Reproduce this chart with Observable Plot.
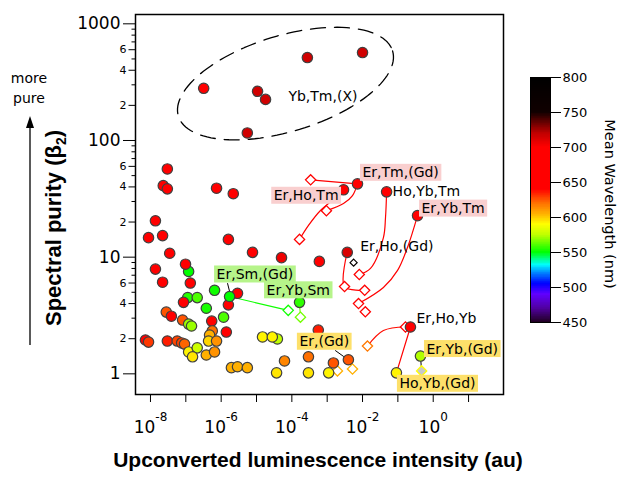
<!DOCTYPE html>
<html>
<head>
<meta charset="utf-8">
<script src="https://cdn.jsdelivr.net/npm/d3@7"></script>
<script src="https://cdn.jsdelivr.net/npm/@observablehq/plot@0.6"></script>
<style>
html,body{margin:0;padding:0;background:#fff;}
#chart{position:relative;width:618px;height:477px;overflow:hidden;background:#fff;}
#chart svg{position:absolute;left:0;top:0;}
</style>
</head>
<body>
<div id="chart"></div>
<script>
// ---------- colour scale (mean wavelength, nm) ----------
const wlStops  = [450, 470, 490, 505, 520, 532, 550, 575, 590, 605, 620, 640, 700, 720, 750, 800];
const wlColors = ["#200020","#5000a0","#6000ff","#0000ff","#0080ff","#00ffff","#00ff00","#c0ff00","#ffff00","#ffb000","#ff7000","#ff0000","#ff0000","#c00000","#100000","#000000"];
const cbTicks = [450, 500, 550, 600, 650, 700, 750, 800];

// ---------- Yb,Tm,(X) group ----------
const ybtmX  = [3.2e-7, 2.75e-4, 1.0e-2, 1.07e-5, 1.8e-5, 5.5e-6];
const ybtmY  = [280, 514, 567, 264, 225, 116];
const ybtmWl = [665, 715, 715, 715, 715, 715];

// ---------- unlabeled compositions ----------
const upperX  = [1.2e-7, 3.0e-8, 2.3e-8, 3.0e-8, 7.4e-7, 2.2e-6, 1.38e-8, 8.8e-9, 2.2e-8, 1.6e-6, 3.5e-8, 7.7e-6, 9.8e-8, 1.38e-8, 5.1e-5, 6.0e-4, 2.2e-8, 1.34e-7];
const upperY  = [7.55, 57, 41, 38.5, 39, 35, 20.5, 14.7, 15.3, 14.2, 10.8, 11, 8.7, 7.9, 9.9, 9.2, 6.1, 6.0];
const upperWl = [550, 665, 665, 665, 665, 665, 665, 665, 665, 665, 665, 665, 665, 665, 705, 665, 665, 665];

const lowMidX  = [5.6e-4, 1.5e-3, 2.95e-4, 6.2e-5, 3.7e-5, 2.95e-4, 1.1e-3, 3.9e-5, 1.48e-5, 2.8e-5];
const lowMidY  = [2.37, 1.24, 1.40, 1.29, 1.02, 1.02, 1.02, 1.99, 2.07, 2.07];
const lowMidWl = [635, 625, 620, 615, 595, 595, 592, 575, 592, 592];

const greenX  = [6.5e-7, 2.9e-6, 1.13e-7, 2.1e-7, 8.6e-8, 1.6e-6, 3.8e-7, 1.17e-6];
const greenY  = [5.2, 4.9, 4.5, 4.5, 4.1, 3.9, 3.65, 3.06];
const greenWl = [552, 665, 555, 560, 665, 665, 553, 560];

const midX  = [2.8e-8, 3.9e-8, 8.1e-8, 1.2e-7, 1.45e-7, 5.4e-7, 1.4e-6, 5.6e-7, 4.7e-7, 4.4e-7, 7.4e-7];
const midY  = [3.38, 3.12, 2.89, 2.67, 2.57, 2.83, 2.28, 2.33, 2.15, 1.91, 1.91];
const midWl = [625, 655, 625, 570, 570, 660, 645, 620, 605, 598, 612];

const lowLeftX  = [7.2e-9, 8.8e-9, 3.0e-8, 5.7e-8, 7.6e-8, 9.2e-8, 1.2e-7, 2.1e-7, 1.55e-7, 3.8e-7, 6.5e-7, 1.95e-6, 2.9e-6, 5.5e-6];
const lowLeftY  = [1.95, 1.87, 1.91, 1.91, 1.84, 1.80, 1.54, 1.67, 1.40, 1.45, 1.54, 1.13, 1.15, 1.13];
const lowLeftWl = [640, 630, 635, 628, 628, 622, 592, 578, 595, 605, 612, 605, 605, 605];

// ---------- labeled compositions ----------
const labNames = ["Er,Tm,(Gd)", "Er,Ho,Tm", "Ho,Yb,Tm", "Er,Yb,Tm", "Er,Ho,(Gd)", "Er,Sm,(Gd)", "Er,Yb,Sm", "Er,Ho,Yb", "Er,Yb,(Gd)", "Ho,Yb,(Gd)", "Er,(Gd)"];
const labX  = [7.2e-3, 2.9e-3, 0.048, 0.36, 3.7e-3, 1.73e-6, 1.65e-4, 0.227, 0.436, 0.091, 3.98e-3];
const labY  = [42.5, 37.8, 36.3, 22.7, 11, 4.6, 4.1, 2.52, 1.42, 1.02, 1.32];
const labWl = [668, 668, 668, 668, 712, 550, 556, 662, 573, 592, 625];

// ---------- open diamonds (reference compositions) ----------
const diaX  = [3.4e-4, 9.5e-4, 1.65e-4, 8.1e-3, 7.7e-3, 3.1e-3, 0.0115, 0.012, 7.9e-5, 1.75e-4, 0.164, 0.0138, 1.95e-3, 5.2e-3];
const diaY  = [46, 25, 14.2, 7.1, 4.0, 5.6, 5.2, 3.4, 3.5, 3.06, 2.52, 1.73, 1.06, 1.10];
const diaWl = [668, 668, 668, 668, 668, 668, 668, 668, 552, 565, 668, 618, 605, 605];
const blackDia = {x: 4.6e-3, y: 9.9, wl: 790};
const grayDia  = {x: 0.47, y: 1.06, wl: 590};

// ---------- connecting paths ----------
const curveA = [[7.2e-3, 42.5], [3.4e-4, 46]];
const curveB = [[9.5e-4, 25], [2.89e-3, 28.8], [5.2e-3, 33.7], [7.2e-3, 42.5]];
const curveC = [[1.65e-4, 14.2], [2.96e-4, 18.7], [6.45e-4, 25.1], [1.72e-3, 32.4], [2.9e-3, 37.8]];
const curveD = [[0.048, 36.3], [0.0447, 21.9], [0.039, 14.7], [0.0168, 8.0], [8.1e-3, 7.1]];
const curveE = [[0.36, 22.7], [0.187, 12.1], [0.098, 7.7], [0.039, 5.5], [7.7e-3, 4.0]];
const curveF = [[3.7e-3, 11], [3.1e-3, 5.6], [0.0115, 5.2]];
const curveG = [[1.73e-6, 4.6], [7.9e-5, 3.5]];
const curveH = [[1.65e-4, 4.1], [1.75e-4, 3.06]];
const curveI = [[0.0138, 1.73], [0.039, 2.35], [0.164, 2.52]];
const curveJ = [[0.227, 2.52], [0.091, 1.02]];
const connectors = [
  [[0.436, 1.42], [0.47, 1.06]],
  [[1.52e-6, 5.94], [1.73e-6, 5.08]],
  [[1.72e-3, 1.58], [2.9e-3, 1.41]]
];
// dashed ellipse around Yb,Tm,(X): centre (log10 x, log10 y) and conjugate semi-axes in decades
const ellCenter = [-4.18, 2.488];
const ellU = [3.03, 0.28];
const ellV = [0.397, -0.393];
const ybtmLabel = {x: 8.0e-5, y: 238, text: "Yb,Tm,(X)"};

// ---------- axis ticks ----------
const xTicks = [1e-8, 1e-7, 1e-6, 1e-5, 1e-4, 1e-3, 1e-2, 1e-1, 1, 10];
const yMajor = [1, 10, 100, 1000];
const yMinorLab = [2, 4, 6, 20, 40, 60, 200, 400, 600];
const yMinorLabText = ["2", "4", "6", "2", "4", "6", "2", "4", "6"];
const yMinor = [3, 5, 7, 8, 9, 30, 50, 70, 80, 90, 300, 500, 700, 800, 900];

// ---------- build tables ----------
const colorOpts = {type: "linear", domain: wlStops, range: wlColors, interpolate: "rgb"};
const dots = [];
function addGroup(X, Y, W) { X.forEach((x, i) => dots.push({x, y: Y[i], wl: W[i]})); }
addGroup(ybtmX, ybtmY, ybtmWl);
addGroup(upperX, upperY, upperWl);
addGroup(lowMidX, lowMidY, lowMidWl);
addGroup(greenX, greenY, greenWl);
addGroup(midX, midY, midWl);
addGroup(lowLeftX, lowLeftY, lowLeftWl);
const labeled = labNames.map((name, i) => ({name, x: labX[i], y: labY[i], wl: labWl[i]}));
const diamonds = diaX.map((x, i) => ({x, y: diaY[i], wl: diaWl[i]}));
const minorLab = yMinorLab.map((y, i) => ({y, t: yMinorLabText[i]}));

const curveSet = [
  {pts: curveA, wl: 668}, {pts: curveB, wl: 668}, {pts: curveC, wl: 668},
  {pts: curveD, wl: 668}, {pts: curveE, wl: 668}, {pts: curveF, wl: 668},
  {pts: curveG, wl: 552}, {pts: curveH, wl: 565}, {pts: curveI, wl: 638},
  {pts: curveJ, wl: 668}
];
const curveData = curveSet.flatMap((c, i) => c.pts.map(([x, y]) => ({x, y, wl: c.wl, z: i})));
const connData = connectors.flatMap((c, i) => c.map(([x, y]) => ({x, y, z: i})));

const ellData = d3.range(0, 361, 3).map(deg => {
  const t = deg * Math.PI / 180;
  const lx = ellCenter[0] + ellU[0] * Math.cos(t) + ellV[0] * Math.sin(t);
  const ly = ellCenter[1] + ellU[1] * Math.cos(t) + ellV[1] * Math.sin(t);
  return {x: Math.pow(10, lx), y: Math.pow(10, ly)};
});

const labelLayout = {
  "Er,Tm,(Gd)": {dx: 5, dy: -11, anchor: "start", bg: "#f9cfcf"},
  "Er,Ho,Tm":   {dx: -5, dy: 6, anchor: "end", bg: "#f9cfcf"},
  "Ho,Yb,Tm":   {dx: 6, dy: 0, anchor: "start", bg: null},
  "Er,Yb,Tm":   {dx: 4, dy: -7, anchor: "start", bg: "#f9cfcf"},
  "Er,Ho,(Gd)": {dx: 13, dy: -6, anchor: "start", bg: null},
  "Er,Sm,(Gd)": {dx: -13, dy: -22, anchor: "start", bg: "#b6f48a"},
  "Er,Yb,Sm":   {dx: -33, dy: -12, anchor: "start", bg: "#b6f48a"},
  "Er,Ho,Yb":   {dx: 6, dy: -8, anchor: "start", bg: null},
  "Er,Yb,(Gd)": {dx: 6, dy: -7, anchor: "start", bg: "#fde06a"},
  "Ho,Yb,(Gd)": {dx: 3, dy: 11, anchor: "start", bg: "#fde06a"},
  "Er,(Gd)":    {dx: -49, dy: -18, anchor: "start", bg: "#fde06a"}
};

const labelMarks = labeled.map(d => {
  const L = labelLayout[d.name];
  return Plot.text([d], {x: "x", y: "y", text: "name", dx: L.dx, dy: L.dy, textAnchor: L.anchor,
    fontSize: 14, fill: "black", fontFamily: "DejaVu Sans"});
});

// horizontal tick symbol drawn leftwards from the frame edge
const leftTick = len => ({draw(ctx) { ctx.moveTo(-len, 0); ctx.lineTo(0, 0); }});

const main = Plot.plot({
  width: 618, height: 477,
  marginLeft: 135, marginRight: 115, marginTop: 14, marginBottom: 83,
  x: {type: "log", domain: [Math.pow(10, -8.424), Math.pow(10, 1.989)], axis: null, label: null},
  y: {type: "log", domain: [0.665, 1202], axis: null, label: null},
  color: colorOpts,
  style: {fontFamily: "DejaVu Sans", background: "transparent", color: "black", overflow: "visible"},
  marks: [
    Plot.line(ellData, {x: "x", y: "y", stroke: "black", strokeWidth: 1.3, strokeDasharray: "15,9", curve: "linear"}),
    Plot.line(curveData, {x: "x", y: "y", z: "z", stroke: "wl", strokeWidth: 1.2, curve: "catmull-rom"}),
    Plot.line(connData, {x: "x", y: "y", z: "z", stroke: "black", strokeWidth: 1}),
    Plot.dot(diamonds, {x: "x", y: "y", symbol: "diamond2", r: 4.6, fill: "white", stroke: "wl", strokeWidth: 1.3}),
    Plot.dot([grayDia], {x: "x", y: "y", symbol: "diamond2", r: 4.6, fill: "#c8c8c8", stroke: "wl", strokeWidth: 1.3}),
    Plot.dot(dots, {x: "x", y: "y", r: 5.2, fill: "wl", stroke: "#404040", strokeWidth: 1.2}),
    Plot.dot(labeled, {x: "x", y: "y", r: 5.2, fill: "wl", stroke: "#404040", strokeWidth: 1.2}),
    Plot.dot([blackDia], {x: "x", y: "y", symbol: "diamond2", r: 3.2, fill: "white", stroke: "wl", strokeWidth: 1.2, dx: 3, dy: 5}),
    ...labelMarks,
    Plot.text([ybtmLabel], {x: "x", y: "y", text: "text", textAnchor: "start", fontSize: 14, fill: "black"}),
    Plot.frame({stroke: "black", strokeWidth: 1.5}),
    Plot.axisX({ticks: xTicks, tickSize: 8, tickPadding: 18, fontSize: 17, label: null,
      tickFormat: d => { const e = Math.round(Math.log10(d)); return e % 2 === 0 ? String(e) : ""; }}),
    Plot.axisY({ticks: yMajor, tickSize: 12, tickPadding: 3, fontSize: 17, label: null, tickFormat: d => String(d)}),
    // minor y ticks (labelled 2,4,6 and unlabelled)
    Plot.dot(yMinorLab, {y: d => d, frameAnchor: "left", symbol: leftTick(7), r: 3, fill: "none", stroke: "black", strokeWidth: 1}),
    Plot.dot(yMinor, {y: d => d, frameAnchor: "left", symbol: leftTick(4), r: 3, fill: "none", stroke: "black", strokeWidth: 1}),
    Plot.text(minorLab, {y: "y", text: "t", frameAnchor: "left", dx: -9, textAnchor: "end", fontSize: 11, fill: "black"})
  ]
});

const cbar = Plot.plot({
  width: 618, height: 477,
  marginLeft: 530, marginRight: 68, marginTop: 77, marginBottom: 155,
  x: {domain: [0, 1], axis: null},
  y: {domain: [450, 800], axis: null, label: null},
  color: colorOpts,
  style: {fontFamily: "DejaVu Sans", background: "transparent", color: "black"},
  marks: [
    Plot.rect(d3.range(450, 800, 1), {x1: 0, x2: 1, y1: d => d, y2: d => d + 1, fill: d => d + 0.5, shapeRendering: "crispEdges"}),
    Plot.frame({stroke: "black", strokeWidth: 1}),
    Plot.axisY({anchor: "right", ticks: cbTicks, tickSize: 10, tickPadding: 2, fontSize: 13, label: null, tickFormat: d => String(d)})
  ]
});

const holder = document.getElementById("chart");
holder.appendChild(main);
holder.appendChild(cbar);

// superscript exponents on x tick labels
d3.select(main).selectAll('g[aria-label="x-axis tick label"] text').each(function() {
  const e = this.textContent;
  if (e === "") return;
  const t = d3.select(this);
  t.text("10");
  t.append("tspan").attr("dy", -12).attr("font-size", 12).text(e);
});

// label backgrounds
d3.select(main).selectAll("text").each(function() {
  const L = labelLayout[this.textContent];
  if (!L || !L.bg) return;
  const b = this.getBBox();
  const r = document.createElementNS("http://www.w3.org/2000/svg", "rect");
  r.setAttribute("x", b.x - 2.5);
  r.setAttribute("y", b.y - 0.5);
  r.setAttribute("width", b.width + 5);
  r.setAttribute("height", b.height + 1);
  r.setAttribute("fill", L.bg);
  r.setAttribute("stroke", "none");
  const tr = this.getAttribute("transform");
  if (tr) r.setAttribute("transform", tr);
  this.parentNode.insertBefore(r, this);
});

// axis titles and annotations
const s = d3.select(main);
const yt = s.append("text").attr("transform", "translate(61,228) rotate(-90)")
  .attr("text-anchor", "middle").attr("font-family", "Liberation Sans, Arial, sans-serif")
  .attr("font-weight", "bold").attr("font-size", 22).attr("fill", "black");
yt.append("tspan").text("Spectral purity (β");
yt.append("tspan").attr("font-size", 14).attr("dy", 5).text("2");
yt.append("tspan").attr("dy", -5).text(")");

s.append("text").attr("x", 318).attr("y", 467).attr("text-anchor", "middle")
  .attr("font-family", "Liberation Sans, Arial, sans-serif").attr("font-weight", "bold")
  .attr("font-size", 21).attr("fill", "black").text("Upconverted luminescence intensity (au)");

s.append("text").attr("x", 29).attr("y", 83).attr("text-anchor", "middle")
  .attr("font-family", "DejaVu Sans").attr("font-size", 14).attr("fill", "black").text("more");
s.append("text").attr("x", 29).attr("y", 103).attr("text-anchor", "middle")
  .attr("font-family", "DejaVu Sans").attr("font-size", 14).attr("fill", "black").text("pure");
s.append("line").attr("x1", 30).attr("x2", 30).attr("y1", 345).attr("y2", 125)
  .attr("stroke", "black").attr("stroke-width", 1.3);
s.append("path").attr("d", "M30,116 L26,128 L34,128 Z").attr("fill", "black");

d3.select(cbar).append("text").attr("transform", "translate(605,204) rotate(90)")
  .attr("text-anchor", "middle").attr("font-family", "DejaVu Sans").attr("font-size", 14.5)
  .attr("fill", "black").text("Mean Wavelength (nm)");
</script>
</body>
</html>
